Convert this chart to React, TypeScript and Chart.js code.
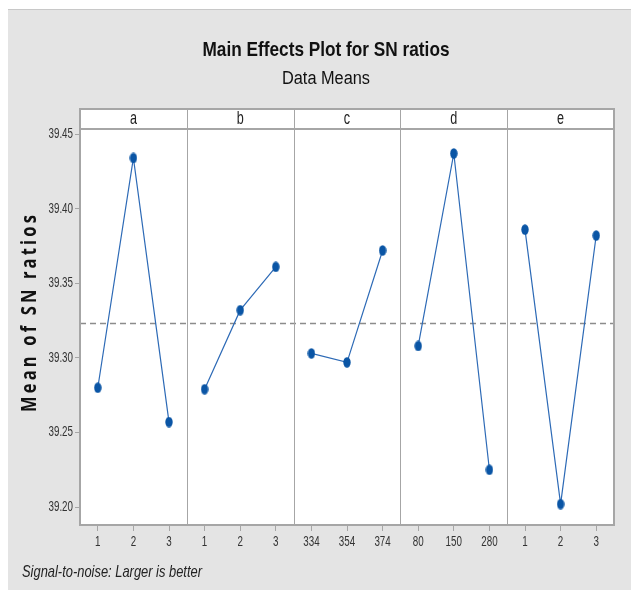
import React, { useEffect, useRef } from "react";
import { Chart, registerables } from "chart.js";
Chart.register(...registerables);

const factors = ["a", "b", "c", "d", "e"];
const levelLabels = [
  ["1", "2", "3"],
  ["1", "2", "3"],
  ["334", "354", "374"],
  ["80", "150", "280"],
  ["1", "2", "3"],
];
const aMeans = [39.28, 39.434, 39.257];
const bMeans = [39.279, 39.332, 39.361];
const cMeans = [39.303, 39.297, 39.372];
const dMeans = [39.308, 39.437, 39.225];
const eMeans = [39.386, 39.202, 39.382];
const grandMean = 39.323;
const yTicks = [39.2, 39.25, 39.3, 39.35, 39.4, 39.45];
const yMin = 39.188;
const yMax = 39.4534;

const seriesMeans = [aMeans, bMeans, cMeans, dMeans, eMeans];
const SANS = "'Liberation Sans', Arial, sans-serif";
const BG = "#e4e4e4";
const FRAME = "#a6a6a6";
const LINE = "#2d6ab6";
const DOT = "#0a55a5";
const SQUEEZE = 0.7;

const xPos = (p: number, i: number) => p * 3 + i + 0.5;

function fitText(ctx: any, text: string, x: number, y: number, font: string, width: number) {
  ctx.save();
  ctx.font = font;
  const w = ctx.measureText(text).width;
  ctx.translate(x, y);
  ctx.scale(width / w, 1);
  ctx.textAlign = "center";
  ctx.textBaseline = "middle";
  ctx.fillText(text, 0, 0);
  ctx.restore();
}

function squeezeText(ctx: any, text: string, x: number, y: number, font: string, align: string) {
  ctx.save();
  ctx.font = font;
  ctx.translate(x, y);
  ctx.scale(SQUEEZE, 1);
  ctx.textAlign = align;
  ctx.textBaseline = "middle";
  ctx.fillText(text, 0, 0);
  ctx.restore();
}

function makeDot() {
  const c = document.createElement("canvas");
  c.width = 8;
  c.height = 11;
  const g = c.getContext("2d")!;
  g.fillStyle = DOT;
  g.beginPath();
  g.ellipse(4, 5.5, 3.7, 5.2, 0, 0, Math.PI * 2);
  g.fill();
  return c;
}

const decorPlugin = {
  id: "decor",
  beforeDraw(chart: any) {
    const { ctx, chartArea: ca, width, height } = chart;
    ctx.save();
    ctx.fillStyle = BG;
    ctx.fillRect(0, 0, width, height);
    ctx.fillStyle = "#c8c8c8";
    ctx.fillRect(0, 0, width, 1);
    ctx.fillStyle = "#ffffff";
    ctx.fillRect(ca.left, ca.top - 20, ca.right - ca.left, ca.bottom - ca.top + 20);
    ctx.restore();
  },
  afterDatasetsDraw(chart: any) {
    const { ctx, chartArea: ca, scales } = chart;
    const xs = scales.x;
    const ys = scales.y;
    ctx.save();
    // panel separators
    ctx.strokeStyle = FRAME;
    ctx.lineWidth = 1;
    for (let p = 1; p < factors.length; p++) {
      const x = Math.round(xs.getPixelForValue(p * 3)) + 0.5;
      ctx.beginPath();
      ctx.moveTo(x, ca.top - 20);
      ctx.lineTo(x, ca.bottom);
      ctx.stroke();
    }
    // frame + header strip
    ctx.lineWidth = 2;
    ctx.strokeRect(ca.left, ca.top - 20, ca.right - ca.left, ca.bottom - ca.top + 20);
    ctx.beginPath();
    ctx.moveTo(ca.left, ca.top);
    ctx.lineTo(ca.right, ca.top);
    ctx.stroke();
    ctx.restore();

    ctx.save();
    ctx.fillStyle = "#222";
    factors.forEach((f, p) => {
      const cx = xs.getPixelForValue(p * 3 + 1.5);
      squeezeText(ctx, f, cx, ca.top - 10, "18px " + SANS, "center");
    });
    // tick labels
    ctx.fillStyle = "#333";
    ys.ticks.forEach((t: any) => {
      squeezeText(ctx, Number(t.value).toFixed(2), ca.left - 7, ys.getPixelForValue(t.value), "14px " + SANS, "right");
    });
    xs.ticks.forEach((t: any) => {
      const p = Math.floor(t.value / 3);
      const i = Math.floor(t.value - p * 3);
      squeezeText(ctx, levelLabels[p][i], xs.getPixelForValue(t.value), ca.bottom + 17, "14px " + SANS, "center");
    });
    // titles
    ctx.fillStyle = "#111";
    fitText(ctx, "Main Effects Plot for SN ratios", 318, 41, "bold 21px " + SANS, 247);
    fitText(ctx, "Data Means", 318, 70, "18px " + SANS, 88);
    // footnote
    ctx.fillStyle = "#222";
    fitText(ctx, "Signal-to-noise: Larger is better", 14 + 90, 563, "italic 17px " + SANS, 180);
    // y title
    ctx.translate(22, 303);
    ctx.rotate(-Math.PI / 2);
    ctx.fillStyle = "#111";
    (ctx as any).letterSpacing = "4px";
    fitText(ctx, "Mean of SN ratios", 0, 0, "bold 21px 'Open Sans', sans-serif", 200);
    ctx.restore();
  },
};

export default function App() {
  const ref = useRef<HTMLCanvasElement>(null);
  useEffect(() => {
    const dot = makeDot();
    const datasets: any[] = seriesMeans.map((vals, p) => ({
      data: vals.map((v, i) => ({ x: xPos(p, i), y: v })),
      borderColor: LINE,
      borderWidth: 1.2,
      pointStyle: dot,
      pointRadius: 4,
      showLine: true,
      order: 1,
    }));
    datasets.push({
      data: [
        { x: 0, y: grandMean },
        { x: factors.length * 3, y: grandMean },
      ],
      borderColor: "#8c8c8c",
      borderWidth: 1.5,
      borderDash: [6, 4],
      pointRadius: 0,
      showLine: true,
      order: 2,
    });
    const xTickVals: number[] = [];
    levelLabels.forEach((labs, p) => labs.forEach((_l, i) => xTickVals.push(xPos(p, i))));
    const chart = new Chart(ref.current!, {
      type: "scatter",
      data: { datasets },
      plugins: [decorPlugin],
      options: {
        animation: false,
        responsive: false,
        layout: { padding: { top: 120, right: 17, bottom: 25, left: 0 } },
        plugins: { legend: { display: false }, tooltip: { enabled: false } },
        scales: {
          x: {
            type: "linear",
            min: 0,
            max: factors.length * 3,
            afterBuildTicks: (s: any) => {
              s.ticks = xTickVals.map((v) => ({ value: v }));
            },
            afterFit: (s: any) => {
              s.height = 40;
            },
            ticks: { display: false },
            grid: { drawOnChartArea: false, tickLength: 6, color: FRAME },
            border: { display: false },
          },
          y: {
            type: "linear",
            min: yMin,
            max: yMax,
            afterBuildTicks: (s: any) => {
              s.ticks = yTicks.map((v) => ({ value: v }));
            },
            afterFit: (s: any) => {
              s.width = 72;
            },
            ticks: { display: false },
            grid: { drawOnChartArea: false, tickLength: 5, color: FRAME },
            border: { display: false },
          },
        },
      },
    });
    return () => chart.destroy();
  }, []);
  return (
    <div style={{ position: "fixed", left: 8, top: 9, width: 623, height: 581 }}>
      <canvas ref={ref} width={623} height={581} style={{ display: "block" }} />
    </div>
  );
}
